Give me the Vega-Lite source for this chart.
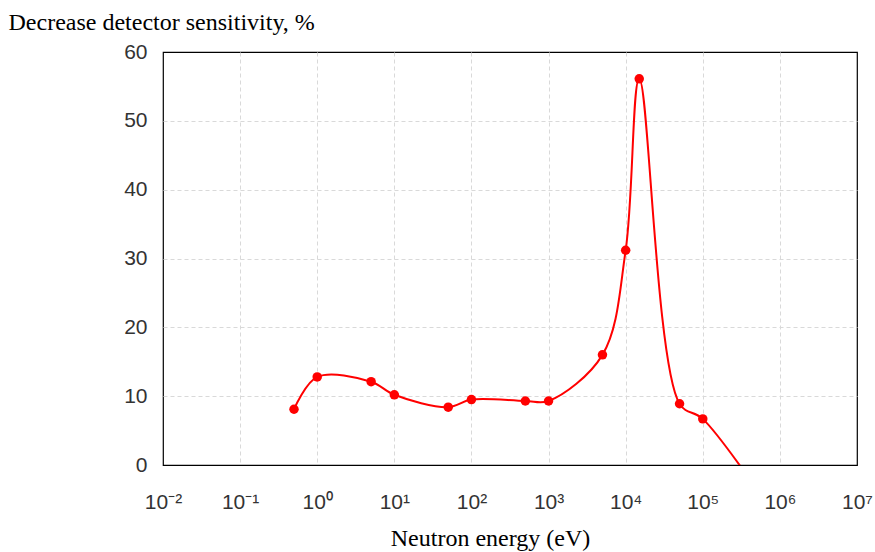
{
  "$schema": "https://vega.github.io/schema/vega-lite/v6.json",
  "width": 694,
  "height": 413,
  "autosize": {"type": "none"},
  "padding": {"left": 163, "top": 52, "right": 18, "bottom": 87},
  "background": "white",
  "config": {
    "view": {"stroke": "#000000", "strokeWidth": 1.2},
    "axis": {
      "grid": true,
      "gridColor": "#d9d9d9",
      "gridDash": [4, 3],
      "gridWidth": 1,
      "ticks": false,
      "domain": false,
      "labelFont": "Liberation Sans",
      "labelFontSize": 21,
      "labelColor": "#333333"
    }
  },
  "data": {
    "values": [
      {"energy": 0.5, "decrease": 8.1},
      {"energy": 1, "decrease": 12.8},
      {"energy": 5, "decrease": 12.1},
      {"energy": 10, "decrease": 10.2},
      {"energy": 50, "decrease": 8.4},
      {"energy": 100, "decrease": 9.5},
      {"energy": 500, "decrease": 9.3},
      {"energy": 1000, "decrease": 9.3},
      {"energy": 5000, "decrease": 16.0},
      {"energy": 10000, "decrease": 31.2},
      {"energy": 15000, "decrease": 56.1},
      {"energy": 50000, "decrease": 8.9},
      {"energy": 100000, "decrease": 6.7},
      {"energy": 1000000, "decrease": -8.4}
    ]
  },
  "encoding": {
    "x": {
      "field": "energy",
      "type": "quantitative",
      "scale": {"type": "log", "domain": [0.01, 10000000], "nice": false},
      "axis": {
        "values": [0.01, 0.1, 1, 10, 100, 1000, 10000, 100000, 1000000, 10000000],
        "labelExpr": "'10' + ['⁻²','⁻¹','⁰','¹','²','³','⁴','⁵','⁶','⁷'][round(log(datum.value)/LN10) + 2]",
        "labelPadding": 26,
        "labelFlush": false,
        "gridOpacity": {"condition": {"test": "datum.value <= 0.011 || datum.value >= 9000000", "value": 0}, "value": 1},
        "title": "Neutron energy (eV)",
        "titleFont": "Liberation Serif",
        "titleFontSize": 24,
        "titleFontWeight": "normal",
        "titleColor": "#000000",
        "titleAlign": "center",
        "titleBaseline": "middle",
        "titleX": 327,
        "titleY": 73
      }
    },
    "y": {
      "field": "decrease",
      "type": "quantitative",
      "scale": {"domain": [0, 60], "nice": false},
      "axis": {
        "values": [0, 10, 20, 30, 40, 50, 60],
        "labelPadding": 16,
        "gridOpacity": {"condition": {"test": "datum.value == 0 || datum.value == 60", "value": 0}, "value": 1},
        "title": "Decrease detector sensitivity, %",
        "titleFont": "Liberation Serif",
        "titleFontSize": 24,
        "titleFontWeight": "normal",
        "titleColor": "#000000",
        "titleAngle": 0,
        "titleAlign": "left",
        "titleBaseline": "middle",
        "titleX": -155,
        "titleY": -30
      }
    }
  },
  "layer": [
    {
      "mark": {"type": "line", "interpolate": "catmull-rom", "color": "#ff0000", "strokeWidth": 2, "clip": true}
    },
    {
      "transform": [{"filter": "datum.decrease >= 0"}],
      "mark": {"type": "point", "filled": true, "color": "#ff0000", "size": 90, "opacity": 1}
    }
  ]
}
